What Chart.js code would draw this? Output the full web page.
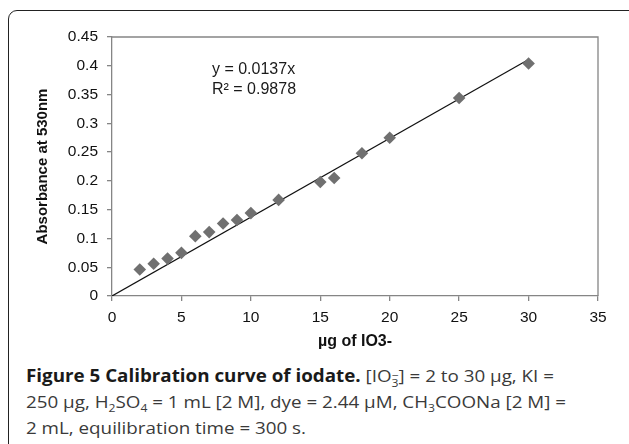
<!DOCTYPE html>
<html>
<head>
<meta charset="utf-8">
<script src="https://cdn.jsdelivr.net/npm/chart.js@4"></script>
<style>
  html, body { margin: 0; padding: 0; background: #fff; width: 629px; height: 444px; overflow: hidden; }
  #card { position: absolute; left: 8px; top: 10px; width: 700px; height: 500px; border: 1.6px solid #222; border-radius: 9px; box-sizing: border-box; }
  #chart { position: absolute; left: 0; top: 0; }
  #caption { position: absolute; left: 26px; top: 363px; font-family: "Open Sans", "Noto Sans", sans-serif; font-size: 17px; line-height: 26px; color: #3a3a3a; }
  #caption .ln { white-space: nowrap; transform-origin: 0 50%; }
  #caption b { color: #1a1a1a; font-weight: 700; }
  .ion { display: inline-block; font-size: 11px; line-height: 8px; vertical-align: -5px; text-align: center; }
  .ion span { display: block; }
  sub { font-size: 11px; line-height: 0; }
</style>
</head>
<body>
<div id="card"></div>
<canvas id="chart" width="629" height="360"></canvas>
<div id="caption">
  <div class="ln"><b>Figure 5 Calibration curve of iodate.</b> [IO<span class="ion"><span>−</span><span>3</span></span>] = 2 to 30 µg, KI =</div>
  <div class="ln">250 µg, H<sub>2</sub>SO<sub>4</sub> = 1 mL [2 M], dye = 2.44 µM, CH<sub>3</sub>COONa [2 M] =</div>
  <div class="ln">2 mL, equilibration time = 300 s.</div>
</div>
<script>
// ---- data ----
const iodateMicrograms = [2, 3, 4, 5, 6, 7, 8, 9, 10, 12, 15, 16, 18, 20, 25, 30];
const absorbance530 = [0.046, 0.056, 0.065, 0.075, 0.104, 0.111, 0.126, 0.132, 0.144, 0.167, 0.198, 0.205, 0.248, 0.275, 0.344, 0.404];
const trendSlope = 0.0137;
const trendRange = [0, 30];
const xTickValues = [0, 5, 10, 15, 20, 25, 30, 35];
const yTickValues = [0, 0.05, 0.1, 0.15, 0.2, 0.25, 0.3, 0.35, 0.4, 0.45];
const equationLines = ["y = 0.0137x", "R² = 0.9878"];
const equationAnchor = { x: 7.2, y: [0.393, 0.359] };
const xTitle = "µg of IO3-";
const yTitle = "Absorbance at 530nm";

const points = iodateMicrograms.map((x, i) => ({ x: x, y: absorbance530[i] }));
const trendPoints = trendRange.map(x => ({ x: x, y: trendSlope * x }));

const FONT = "'Liberation Sans', Arial, sans-serif";
const AXIS_GREY = '#858585';

const framePlugin = {
  id: 'frame',
  beforeDatasetsDraw(chart) {
    const a = chart.chartArea, ctx = chart.ctx;
    ctx.save();
    ctx.strokeStyle = AXIS_GREY;
    ctx.lineWidth = 1.3;
    ctx.beginPath();
    ctx.moveTo(a.left, a.top);
    ctx.lineTo(a.right, a.top);
    ctx.lineTo(a.right, a.bottom);
    ctx.stroke();
    ctx.restore();
  },
  afterDatasetsDraw(chart) {
    const ctx = chart.ctx, xs = chart.scales.x, ys = chart.scales.y;
    ctx.save();
    ctx.fillStyle = '#1a1a1a';
    ctx.font = '16px ' + FONT;
    ctx.textBaseline = 'middle';
    ctx.textAlign = 'left';
    equationLines.forEach((t, i) => {
      ctx.fillText(t, xs.getPixelForValue(equationAnchor.x), ys.getPixelForValue(equationAnchor.y[i]));
    });
    ctx.restore();
  }
};

new Chart(document.getElementById('chart'), {
  type: 'scatter',
  data: {
    datasets: [
      {
        type: 'line',
        data: trendPoints,
        borderColor: '#111',
        borderWidth: 1.2,
        pointRadius: 0,
        fill: false,
        order: 2
      },
      {
        data: points,
        pointStyle: 'rectRot',
        pointRadius: 6.3,
        pointHoverRadius: 6.3,
        backgroundColor: '#707070',
        borderColor: '#707070',
        borderWidth: 0,
        order: 1
      }
    ]
  },
  options: {
    responsive: false,
    devicePixelRatio: 1,
    animation: false,
    layout: { padding: { left: 0, right: 31, top: 37, bottom: 0 } },
    plugins: { legend: { display: false }, tooltip: { enabled: false } },
    scales: {
      x: {
        type: 'linear',
        min: 0, max: 35,
        afterBuildTicks: s => { s.ticks = xTickValues.map(v => ({ value: v })); },
        afterFit: s => { s.height = 64; },
        grid: { drawOnChartArea: false, drawTicks: true, tickLength: 5, color: AXIS_GREY, lineWidth: 1.3 },
        border: { display: true, color: AXIS_GREY, width: 1.3 },
        ticks: { color: '#111', font: { family: FONT, size: 15.5 }, padding: 7, maxRotation: 0 },
        title: { display: true, text: xTitle, color: '#111', font: { family: FONT, size: 16, weight: 'bold' }, padding: { top: 0, bottom: 8.4 } }
      },
      y: {
        type: 'linear',
        min: 0, max: 0.45,
        afterBuildTicks: s => { s.ticks = yTickValues.map(v => ({ value: v })); },
        afterFit: s => { s.width = 112; },
        grid: { drawOnChartArea: false, drawTicks: true, tickLength: 5, color: AXIS_GREY, lineWidth: 1.3 },
        border: { display: true, color: AXIS_GREY, width: 1.3 },
        ticks: { color: '#111', font: { family: FONT, size: 15.5 }, padding: 9,
                 callback: v => String(parseFloat(Number(v).toFixed(2))) },
        title: { display: true, text: yTitle, color: '#111', font: { family: FONT, size: 15, weight: 'bold' }, padding: { top: 34, bottom: 0 } }
      }
    }
  },
  plugins: [framePlugin]
});

// fit caption lines to the reference's width
(function () {
  const lines = document.querySelectorAll('#caption .ln');
  const l2 = lines[1];
  const range = document.createRange();
  range.selectNodeContents(l2);
  const w = range.getBoundingClientRect().width;
  const s = 540 / w;
  lines.forEach(l => { l.style.transform = 'scaleX(' + s + ')'; });
})();
</script>
</body>
</html>
